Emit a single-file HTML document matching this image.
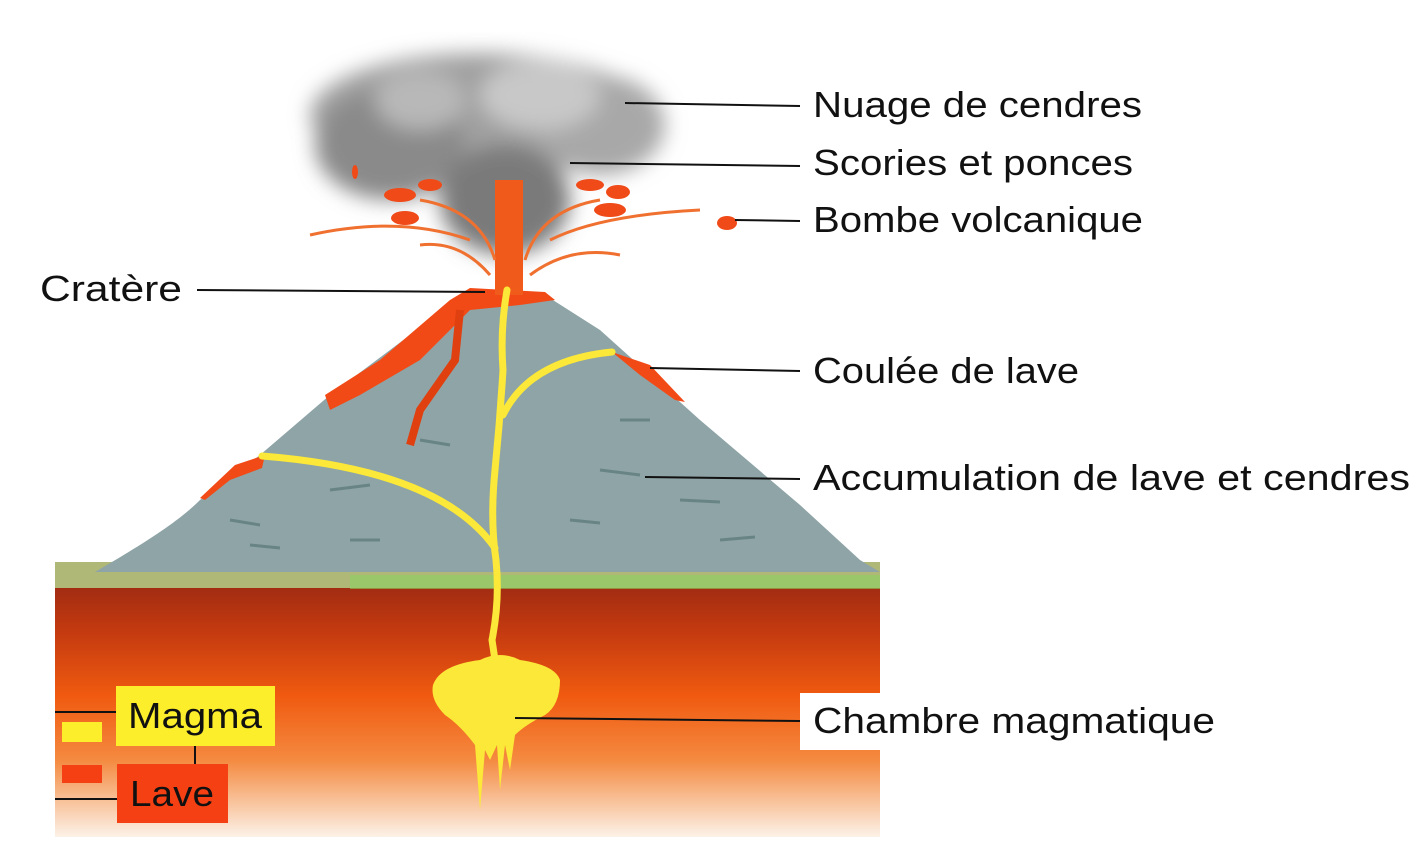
<!DOCTYPE html>
<html><head><meta charset="utf-8"><style>
html,body{margin:0;padding:0;background:#fff;width:1426px;height:867px;overflow:hidden}
svg{display:block}
text{font-family:"Liberation Sans",sans-serif;font-size:36px;fill:#111}
</style></head><body>
<svg width="1426" height="867" viewBox="0 0 1426 867">
<defs>
<linearGradient id="g" x1="0" y1="0" x2="0" y2="1">
<stop offset="0" stop-color="#9c2a12"/>
<stop offset="0.2" stop-color="#c43a10"/>
<stop offset="0.45" stop-color="#f05a10"/>
<stop offset="0.7" stop-color="#f48a40"/>
<stop offset="1" stop-color="#fcf2e8"/>
</linearGradient>
<filter id="b"><feGaussianBlur stdDeviation="10"/></filter>
</defs>
<rect x="55" y="580" width="825" height="257" fill="url(#g)"/>
<rect x="55" y="562" width="825" height="26" fill="#b0b878"/>
<rect x="350" y="575" width="530" height="14" fill="#8ad060" opacity="0.6"/>
<!-- cloud -->
<g filter="url(#b)">
<ellipse cx="480" cy="115" rx="170" ry="62" fill="#a0a0a0"/>
<ellipse cx="390" cy="145" rx="75" ry="55" fill="#8a8a8a"/>
<ellipse cx="600" cy="125" rx="65" ry="50" fill="#a8a8a8"/>
<ellipse cx="505" cy="200" rx="65" ry="55" fill="#7a7a7a"/>
<ellipse cx="540" cy="95" rx="60" ry="35" fill="#c8c8c8"/>
<ellipse cx="420" cy="100" rx="45" ry="30" fill="#b8b8b8"/>
</g>
<!-- cone -->
<path d="M95,572 C150,540 180,520 200,500 L260,455 L330,395 L470,290 L545,295 L600,330 L700,420 L800,505 L860,560 L880,572 Z" fill="#8ea4a6"/>
<g stroke="#5a7678" stroke-width="3" fill="none" opacity="0.7">
<path d="M230,520 l30,5 M330,490 l40,-5 M250,545 l30,3 M600,470 l40,5 M680,500 l40,2 M720,540 l35,-3 M420,440 l30,5 M620,420 l30,0 M570,520 l30,3 M350,540 l30,0"/>
</g>
<!-- lava -->
<path d="M470,288 L545,292 L555,300 L520,305 L470,310 L420,360 L360,395 L330,410 L325,395 L380,360 L450,300 Z" fill="#f24a16"/>
<path d="M460,310 L455,360 L420,410 L410,445" stroke="#e04010" stroke-width="8" fill="none"/>
<path d="M200,498 L235,465 L265,455 L262,468 L230,480 L205,500 Z" fill="#f24a16"/>
<path d="M612,352 L650,365 L685,402 L675,400 L640,375 Z" fill="#f24a16"/>
<!-- column -->
<rect x="495" y="180" width="28" height="115" fill="#f05a1a"/>
<g fill="#f04a18">
<ellipse cx="400" cy="195" rx="16" ry="7"/><ellipse cx="405" cy="218" rx="14" ry="7"/><ellipse cx="430" cy="185" rx="12" ry="6"/>
<ellipse cx="590" cy="185" rx="14" ry="6"/><ellipse cx="618" cy="192" rx="12" ry="7"/><ellipse cx="610" cy="210" rx="16" ry="7"/>
<ellipse cx="727" cy="223" rx="10" ry="7"/><ellipse cx="355" cy="172" rx="3" ry="7"/>
</g>
<g stroke="#f07030" stroke-width="3" fill="none">
<path d="M310,235 Q400,215 470,240"/><path d="M550,240 Q600,215 700,210"/>
<path d="M420,200 Q480,210 495,260"/><path d="M600,200 Q540,210 525,260"/>
<path d="M530,275 Q570,245 620,255"/><path d="M490,275 Q460,240 420,245"/>
</g>
<!-- magma -->
<g stroke="#fbe838" fill="none" stroke-linecap="round">
<path d="M507,290 Q500,330 503,370 Q500,420 495,470 Q490,520 496,560 Q500,600 492,640 L495,660" stroke-width="7"/>
<path d="M503,415 Q530,360 612,352" stroke-width="7"/>
<path d="M495,548 Q440,470 262,456" stroke-width="7"/>
</g>
<path d="M480,660 Q500,650 520,660 Q555,665 560,680 Q560,705 545,715 Q525,725 515,735 L510,770 L505,745 L500,790 L497,745 L490,760 L485,750 L480,810 L475,745 Q460,725 445,715 Q430,700 433,685 Q440,665 480,660 Z" fill="#fbe838"/>
<!-- lines -->
<g stroke="#111" stroke-width="2">
<line x1="625" y1="103" x2="800" y2="106"/>
<line x1="570" y1="163" x2="800" y2="166"/>
<line x1="735" y1="220" x2="800" y2="221"/>
<line x1="197" y1="290" x2="485" y2="292"/>
<line x1="650" y1="368" x2="800" y2="371"/>
<line x1="645" y1="477" x2="800" y2="479"/>
<line x1="515" y1="718" x2="800" y2="721"/>
<line x1="55" y1="712" x2="116" y2="712"/>
<line x1="55" y1="799" x2="117" y2="799"/>
<line x1="195" y1="746" x2="195" y2="770"/>
</g>
<rect x="800" y="693" width="80" height="57" fill="#fff"/>
<rect x="116" y="686" width="159" height="60" fill="#fcee2a"/>
<rect x="117" y="764" width="111" height="59" fill="#f54014"/>
<rect x="62" y="722" width="40" height="20" fill="#fcee2a"/>
<rect x="62" y="765" width="40" height="18" fill="#f54014"/>
<text x="813" y="117" textLength="329" lengthAdjust="spacingAndGlyphs">Nuage de cendres</text>
<text x="813" y="175" textLength="320" lengthAdjust="spacingAndGlyphs">Scories et ponces</text>
<text x="813" y="232" textLength="330" lengthAdjust="spacingAndGlyphs">Bombe volcanique</text>
<text x="40" y="301" textLength="142" lengthAdjust="spacingAndGlyphs">Cratère</text>
<text x="813" y="383" textLength="266" lengthAdjust="spacingAndGlyphs">Coulée de lave</text>
<text x="813" y="490" textLength="597" lengthAdjust="spacingAndGlyphs">Accumulation de lave et cendres</text>
<text x="813" y="733" textLength="402" lengthAdjust="spacingAndGlyphs">Chambre magmatique</text>
<text x="128" y="728" textLength="134" lengthAdjust="spacingAndGlyphs">Magma</text>
<text x="130" y="806" textLength="84" lengthAdjust="spacingAndGlyphs">Lave</text>
</svg>
</body></html>
